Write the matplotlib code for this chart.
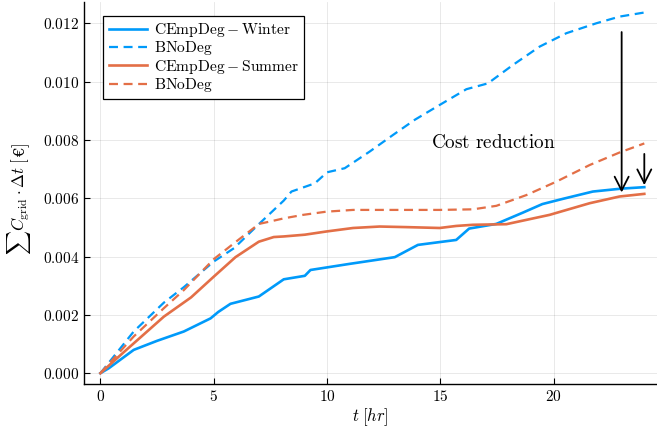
import matplotlib
matplotlib.use("Agg")
import matplotlib.pyplot as plt
from matplotlib.ticker import FixedLocator, FuncFormatter

plt.rcParams['mathtext.fontset'] = 'cm'
plt.rcParams['font.family'] = ['cmr10', 'DejaVu Serif']
plt.rcParams['axes.unicode_minus'] = False

# Winter, CEmpDeg (solid blue)
t_win_emp = [0, 0.37, 1.47, 2.5, 3.68, 4.86, 5.2, 5.74, 6.99, 8.09, 9.02, 9.27, 11.0,
             12.99, 14.01, 15.0, 15.7, 16.27, 17.47, 18.65, 19.5, 20.41, 21.73, 22.99, 24.0]
v_win_emp = [0, 0.00017, 0.0008, 0.00111, 0.00143, 0.00188, 0.0021, 0.00238, 0.00263,
             0.00322, 0.00334, 0.00354, 0.00375, 0.00398, 0.0044, 0.0045, 0.00457, 0.00496,
             0.00512, 0.00551, 0.0058, 0.00598, 0.00623, 0.00633, 0.00638]

# Winter, BNoDeg (dashed blue)
t_win_bno = [0, 1.47, 2.8, 3.68, 5.0, 5.9, 7.0, 8.09, 8.43, 9.46, 10.0, 10.78, 11.88,
             12.91, 13.87, 14.97, 16.15, 17.1, 18.2, 19.38, 20.56, 21.88, 22.91, 24.0]
v_win_bno = [0, 0.00143, 0.00242, 0.00295, 0.00383, 0.00429, 0.00512, 0.00592, 0.00623,
             0.00651, 0.00689, 0.00703, 0.0076, 0.00817, 0.00869, 0.0092, 0.00974, 0.00994,
             0.01057, 0.0112, 0.01166, 0.012, 0.01223, 0.01237]

# Summer, CEmpDeg (solid orange)
t_sum_emp = [0, 1.0, 2.8, 4.0, 5.0, 5.96, 6.99, 7.65, 8.09, 9.02, 9.97, 11.15, 12.32,
             13.5, 14.97, 15.7, 16.44, 17.91, 19.82, 21.59, 22.91, 24.0]
v_sum_emp = [0, 0.0007, 0.00194, 0.0026, 0.00331, 0.00398, 0.00451, 0.00467, 0.00469,
             0.00475, 0.00486, 0.00498, 0.00503, 0.00501, 0.00498, 0.00505, 0.00509,
             0.00511, 0.00543, 0.00583, 0.00606, 0.00615]

# Summer, BNoDeg (dashed orange)
t_sum_bno = [0, 1.47, 2.8, 3.68, 5.0, 5.9, 7.0, 7.47, 8.09, 8.94, 9.97, 11.15, 13.0,
             14.97, 16.44, 17.47, 18.8, 20.12, 21.59, 22.91, 24.0]
v_sum_bno = [0, 0.00126, 0.00223, 0.00285, 0.00391, 0.00446, 0.00512, 0.0052, 0.00531,
             0.00543, 0.00554, 0.0056, 0.0056, 0.0056, 0.00562, 0.00574, 0.00611, 0.00657,
             0.00714, 0.00757, 0.00788]

labels = [r'$\mathrm{CEmpDeg - Winter}$', r'$\mathrm{BNoDeg}$',
          r'$\mathrm{CEmpDeg - Summer}$', r'$\mathrm{BNoDeg}$']
x_ticks = [0, 5, 10, 15, 20]
y_ticks = [0.000, 0.002, 0.004, 0.006, 0.008, 0.010, 0.012]

# annotation arrows (x, y_start, y_end)
arrow_long = (23.0, 0.0117, 0.0062)
arrow_short = (24.0, 0.00752, 0.00645)
note_text = r'$\mathrm{Cost\ reduction}$'
note_pos = (17.35, 0.0079)

blue = '#009AFA'
orange = '#E36F47'

fig = plt.figure(figsize=(6.57, 4.30), dpi=100)
ax = fig.add_axes([0.128, 0.107, 0.872, 0.889])

lw = 1.9
ax.plot(t_win_emp, v_win_emp, color=blue, lw=lw, label=labels[0])
ax.plot(t_win_bno, v_win_bno, color=blue, lw=lw * 0.85, ls=(0, (4, 2.5)), label=labels[1])
ax.plot(t_sum_emp, v_sum_emp, color=orange, lw=lw, label=labels[2])
ax.plot(t_sum_bno, v_sum_bno, color=orange, lw=lw * 0.85, ls=(0, (4, 2.5)), label=labels[3])

for (xa, y0, y1) in (arrow_long, arrow_short):
    ax.annotate('', xy=(xa, y1), xytext=(xa, y0),
                arrowprops=dict(arrowstyle='->,head_length=0.55,head_width=0.28',
                                color='black', lw=1.3,
                                mutation_scale=18, shrinkA=0, shrinkB=0))
ax.text(note_pos[0], note_pos[1], note_text, fontsize=13.8, ha='center', va='center')

ax.set_xlim(-0.72, 24.56)
ax.set_ylim(-0.00037, 0.01274)
ax.xaxis.set_major_locator(FixedLocator(x_ticks))
ax.yaxis.set_major_locator(FixedLocator(y_ticks))
ax.xaxis.set_major_formatter(FuncFormatter(lambda v, p: r'$%d$' % v))
ax.yaxis.set_major_formatter(FuncFormatter(lambda v, p: r'$%.3f$' % v))
ax.tick_params(direction='in', length=4, width=0.8, labelsize=11, colors='black')

for s in ['top', 'right']:
    ax.spines[s].set_visible(False)
for s in ['left', 'bottom']:
    ax.spines[s].set_linewidth(1.0)
    ax.spines[s].set_color('black')

ax.grid(True, color='black', alpha=0.1, lw=0.6)
ax.set_axisbelow(True)

ax.set_xlabel(r'$t\;[hr]$', fontsize=12, labelpad=2)

leg = ax.legend(loc='upper left', bbox_to_anchor=(0.0332, 0.9635), borderaxespad=0,
                fontsize=11.2, frameon=True, fancybox=False, framealpha=1,
                edgecolor='black', handlelength=2.5, borderpad=0.35,
                labelspacing=0.02, handletextpad=0.4)
leg.get_frame().set_linewidth(0.9)

# y label assembled from pieces so the euro sign can come from a font that has it
fig.canvas.draw()
renderer = fig.canvas.get_renderer()
pieces = [(r'$\sum C_{\mathrm{grid}}\cdot\Delta t\;[$', None),
          ('€', 'DejaVu Serif'),
          (r'$]$', None)]
texts = []
for s, fam in pieces:
    kw = dict(fontsize=12, rotation=90, rotation_mode='anchor', ha='left', va='baseline')
    if fam:
        kw['family'] = fam
        kw['fontsize'] = 11
    texts.append(fig.text(0, 0, s, **kw))
widths = []
for t in texts:
    bb = t.get_window_extent(renderer)
    widths.append(bb.height)
total = sum(widths)
x_base = 25.0  # pixel x of baseline
y_center = 430 - 199.0
y_cur = y_center - total / 2
for t, w in zip(texts, widths):
    t.set_position((x_base / 657, y_cur / 430))
    y_cur += w

fig.savefig('out.png', dpi=100)
